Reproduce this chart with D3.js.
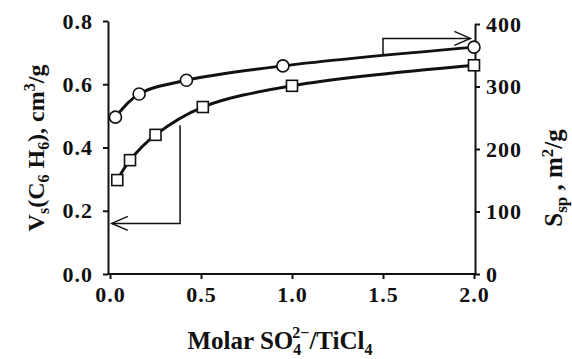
<!DOCTYPE html>
<html>
<head>
<meta charset="utf-8">
<script src="https://cdn.jsdelivr.net/npm/d3@7"></script>
<style>
  body { margin: 0; background: #fff; }
  text { font-family: "Liberation Serif", "Times New Roman", serif; font-weight: bold; fill: #111; }
  .axis path, .axis line { stroke: #111; stroke-width: 2px; }
</style>
</head>
<body>
<svg id="chart" width="572" height="359"></svg>
<script>
// molar ratio SO4/TiCl4
var ratioSq = [0.04, 0.11, 0.25, 0.51, 1.0, 2.0];
var volume = [0.297, 0.36, 0.44, 0.528, 0.595, 0.66];   // Vs, cm3/g (left axis)
var ratioCi = [0.03, 0.16, 0.42, 0.95, 2.0];
var surface = [251, 288, 310, 333, 363];                 // Ssp, m2/g (right axis)

var xTicks = [0, 0.5, 1.0, 1.5, 2.0];
var leftTicks = [0, 0.2, 0.4, 0.6, 0.8];
var rightTicks = [0, 100, 200, 300, 400];

var svg = d3.select('#chart');

var x = d3.scaleLinear().domain([0, 2]).range([110, 474]);
var yL = d3.scaleLinear().domain([0, 0.8]).range([274, 21]);
var yR = d3.scaleLinear().domain([0, 400]).range([274, 24]);

// axes
var xAxis = svg.append('g')
  .attr('class', 'axis')
  .attr('transform', 'translate(0,274)')
  .call(d3.axisBottom(x).tickValues(xTicks).tickFormat(d3.format('.1f')).tickSize(5).tickSizeOuter(0));
xAxis.select('.domain').attr('d', 'M108,0H475');
xAxis.selectAll('text').attr('y', 12).style('font-size', '22px').style('letter-spacing', '1px');

var lAxis = svg.append('g')
  .attr('class', 'axis')
  .attr('transform', 'translate(108,0)')
  .call(d3.axisLeft(yL).tickValues(leftTicks).tickFormat(d3.format('.1f')).tickSize(5).tickSizeOuter(0));
lAxis.selectAll('text').attr('x', -15).style('font-size', '22px').style('letter-spacing', '1px');

var rAxis = svg.append('g')
  .attr('class', 'axis')
  .attr('transform', 'translate(475,0)')
  .call(d3.axisRight(yR).tickValues(rightTicks).tickSize(5).tickSizeOuter(0));
rAxis.selectAll('text').attr('x', 11).style('font-size', '22px').style('letter-spacing', '1px');

// fitted curves
var lineSq = d3.line().x((d, i) => x(ratioSq[i])).y(d => yL(d)).curve(d3.curveCatmullRom.alpha(0.5));
var lineCi = d3.line().x((d, i) => x(ratioCi[i])).y(d => yR(d)).curve(d3.curveCatmullRom.alpha(0.5));

svg.append('path').datum(volume).attr('d', lineSq)
  .attr('fill', 'none').attr('stroke', '#111').attr('stroke-width', 3);
svg.append('path').datum(surface).attr('d', lineCi)
  .attr('fill', 'none').attr('stroke', '#111').attr('stroke-width', 3);

// markers
svg.selectAll('.sq').data(volume).enter().append('rect')
  .attr('class', 'sq')
  .attr('x', (d, i) => x(ratioSq[i]) - 5.5)
  .attr('y', d => yL(d) - 5.5)
  .attr('width', 11).attr('height', 11)
  .attr('fill', 'white').attr('stroke', '#111').attr('stroke-width', 1.6);

svg.selectAll('.ci').data(surface).enter().append('circle')
  .attr('class', 'ci')
  .attr('cx', (d, i) => x(ratioCi[i]))
  .attr('cy', d => yR(d))
  .attr('r', 6)
  .attr('fill', 'white').attr('stroke', '#111').attr('stroke-width', 1.6);

// arrows pointing to the axis each curve belongs to
var arrowL = [[0.385, 0.47], [0.385, 0.16], [0.01, 0.16]];
var arrowR = [[1.5, 352], [1.5, 377], [1.98, 377]];

svg.append('path')
  .attr('d', d3.line()(arrowL.map(p => [x(p[0]), yL(p[1])])))
  .attr('fill', 'none').attr('stroke', '#111').attr('stroke-width', 1.5);
var ax = x(arrowL[2][0]), ay = yL(arrowL[2][1]);
svg.append('path')
  .attr('d', `M${ax + 16},${ay - 7}L${ax},${ay}L${ax + 16},${ay + 7}`)
  .attr('fill', 'none').attr('stroke', '#111').attr('stroke-width', 1.5);

svg.append('path')
  .attr('d', d3.line()(arrowR.map(p => [x(p[0]), yR(p[1])])))
  .attr('fill', 'none').attr('stroke', '#111').attr('stroke-width', 1.5);
var bx = x(arrowR[2][0]), by = yR(arrowR[2][1]);
svg.append('path')
  .attr('d', `M${bx - 16},${by - 7}L${bx},${by}L${bx - 16},${by + 7}`)
  .attr('fill', 'none').attr('stroke', '#111').attr('stroke-width', 1.5);

// axis titles
var xt = svg.append('text')
  .attr('x', 280).attr('y', 349)
  .attr('text-anchor', 'middle')
  .style('font-size', '25px');
xt.append('tspan').text('Molar SO');
xt.append('tspan').text('4').style('font-size', '16px').attr('dy', 6);
xt.append('tspan').text('2\u2212').style('font-size', '16px').attr('dx', -9).attr('dy', -17);
xt.append('tspan').text('/TiCl').attr('dy', 11);
xt.append('tspan').text('4').style('font-size', '16px').attr('dy', 6);

var yt = svg.append('text')
  .attr('transform', 'translate(44,148) rotate(-90)')
  .attr('text-anchor', 'middle')
  .style('font-size', '24px');
yt.append('tspan').text('V');
yt.append('tspan').text('s').style('font-size', '16px').attr('dy', 5);
yt.append('tspan').text('(C').attr('dy', -5);
yt.append('tspan').text('6').style('font-size', '16px').attr('dy', 5);
yt.append('tspan').text(' H').attr('dy', -5);
yt.append('tspan').text('6').style('font-size', '16px').attr('dy', 5);
yt.append('tspan').text('), cm').attr('dy', -5);
yt.append('tspan').text('3').style('font-size', '16px').attr('dy', -9);
yt.append('tspan').text('/g').attr('dy', 9);

var rt = svg.append('text')
  .attr('transform', 'translate(562,178) rotate(-90)')
  .attr('text-anchor', 'middle')
  .style('font-size', '25px');
rt.append('tspan').text('S');
rt.append('tspan').text('sp').style('font-size', '17px').attr('dy', 5);
rt.append('tspan').text(' , m').attr('dy', -5);
rt.append('tspan').text('2').style('font-size', '17px').attr('dy', -9);
rt.append('tspan').text('/g').attr('dy', 9);
</script>
</body>
</html>
